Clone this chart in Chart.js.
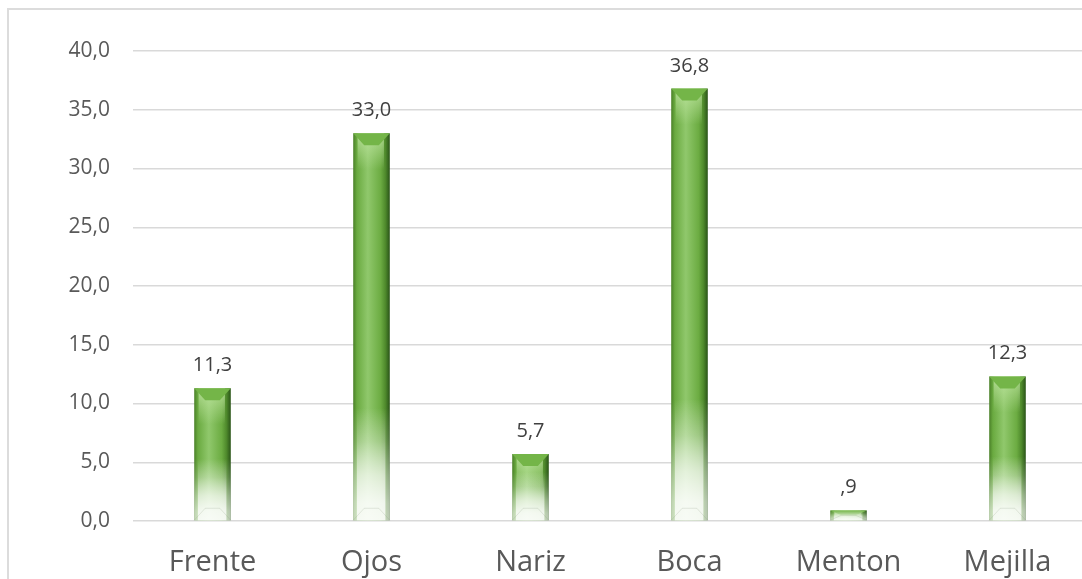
<!DOCTYPE html>
<html>
<head>
<meta charset="utf-8">
<script src="https://cdn.jsdelivr.net/npm/chart.js@4/dist/chart.umd.min.js"></script>
<style>
    html, body { margin: 0; padding: 0; background: #fff; overflow: hidden; }
    #frame {
        position: absolute; left: 7px; top: 8px; width: 1200px; height: 700px;
        border-left: 2px solid #dcdcdc; border-top: 2px solid #dcdcdc;
    }
    #chart { position: absolute; left: 0; top: 0; }
</style>
</head>
<body>
<div id="frame"></div>
<canvas id="chart" width="1100" height="600"></canvas>
<script>
const categories = ["Frente", "Ojos", "Nariz", "Boca", "Menton", "Mejilla"];
const porcentajes = [11.3, 33.0, 5.7, 36.8, 0.9, 12.3];
const yMin = 0;
const yMax = 40;
const yStep = 5;

// 33.0 -> "33,0", 0.9 -> ",9" (leading zero dropped like the source table)
function fmtLabel(v) {
    let s = v.toFixed(1).replace(".", ",");
    if (v > 0 && v < 1) s = s.slice(1);
    return s;
}

function whiteFade(ctx, x, w, from, to, strength) {
    const g = ctx.createLinearGradient(0, from, 0, to);
    g.addColorStop(0, "rgba(255,255,255,0)");
    g.addColorStop(0.3, `rgba(255,255,255,${0.25 * strength})`);
    g.addColorStop(0.6, `rgba(255,255,255,${0.65 * strength})`);
    g.addColorStop(0.85, `rgba(255,255,255,${0.9 * strength})`);
    g.addColorStop(1, `rgba(255,255,255,${0.95 * strength})`);
    ctx.fillStyle = g;
    ctx.fillRect(x, from, w, to - from);
}

// Bevelled green bars with a white fade toward the base
const bevelBars = {
    id: "bevelBars",
    afterDatasetsDraw(chart) {
        const ctx = chart.ctx;
        const meta = chart.getDatasetMeta(0);
        meta.data.forEach((bar, i) => {
            const p = bar.getProps(["x", "y", "base", "width"], true);
            const left = p.x - p.width / 2;
            const right = p.x + p.width / 2;
            const top = Math.min(p.y, p.base);
            const bottom = Math.max(p.y, p.base);
            const w = right - left;
            const h = bottom - top;
            const d = Math.min(12, h / 2);

            ctx.save();

            // body with darker sides
            const g = ctx.createLinearGradient(left, 0, right, 0);
            g.addColorStop(0, "#4a8028");
            g.addColorStop(0.1, "#6aaa40");
            g.addColorStop(0.4, "#90c86c");
            g.addColorStop(0.75, "#6cac42");
            g.addColorStop(0.88, "#4f8a2c");
            g.addColorStop(1, "#2a5418");
            ctx.fillStyle = g;
            ctx.fillRect(left, top, w, h);

            // light highlight just under the top face
            const hh = Math.min(h, 36);
            const hl = ctx.createLinearGradient(0, top, 0, top + hh);
            hl.addColorStop(0, "rgba(195,232,165,0.8)");
            hl.addColorStop(1, "rgba(195,232,165,0)");
            ctx.fillStyle = hl;
            ctx.fillRect(left + w * 0.12, top, w * 0.72, hh);

            // top face
            ctx.beginPath();
            ctx.moveTo(left, top);
            ctx.lineTo(right, top);
            ctx.lineTo(right - w * 0.3, top + d);
            ctx.lineTo(left + w * 0.3, top + d);
            ctx.closePath();
            ctx.fillStyle = "#74b548";
            ctx.fill();

            // fade to white near the base, edges stay a little grey
            const fade = Math.min(h, 35 + 0.2 * h);
            whiteFade(ctx, left, w, bottom - fade, bottom, 0.7);
            whiteFade(ctx, left + w * 0.1, w * 0.78, bottom - fade, bottom, 0.85);

            // faint bottom bevel
            ctx.beginPath();
            ctx.moveTo(left, bottom);
            ctx.lineTo(left + w * 0.3, bottom - d);
            ctx.lineTo(right - w * 0.3, bottom - d);
            ctx.lineTo(right, bottom);
            ctx.strokeStyle = "rgba(120,140,110,0.18)";
            ctx.lineWidth = 1;
            ctx.stroke();

            // value label
            ctx.fillStyle = "#404040";
            ctx.font = "20px 'Open Sans'";
            ctx.textAlign = "center";
            ctx.textBaseline = "alphabetic";
            ctx.fillText(fmtLabel(porcentajes[i]), p.x, top - 17);

            ctx.restore();
        });
    }
};

const ctx = document.getElementById("chart").getContext("2d");
new Chart(ctx, {
    type: "bar",
    data: {
        labels: categories,
        datasets: [{
            data: porcentajes,
            backgroundColor: "rgba(0,0,0,0)",
            borderWidth: 0,
            categoryPercentage: 1,
            barPercentage: 0.23
        }]
    },
    options: {
        responsive: false,
        animation: false,
        devicePixelRatio: 1,
        layout: { padding: { left: 0, right: 13, top: 51, bottom: 0 } },
        plugins: {
            legend: { display: false },
            tooltip: { enabled: false }
        },
        scales: {
            x: {
                grid: { display: false, drawTicks: false },
                border: { display: false },
                ticks: {
                    color: "#595959",
                    font: { family: "'Open Sans'", size: 29 },
                    padding: 24,
                    maxRotation: 0
                },
                afterFit(scale) { scale.height = 79; }
            },
            y: {
                min: yMin,
                max: yMax,
                grid: { color: "#d9d9d9", lineWidth: 1.5, drawTicks: false },
                border: { display: false },
                ticks: {
                    stepSize: yStep,
                    color: "#595959",
                    font: { family: "'Open Sans'", size: 21 },
                    padding: 23,
                    callback: (v) => v.toFixed(1).replace(".", ",")
                },
                afterFit(scale) { scale.width = 133; }
            }
        }
    },
    plugins: [bevelBars]
});
</script>
</body>
</html>
